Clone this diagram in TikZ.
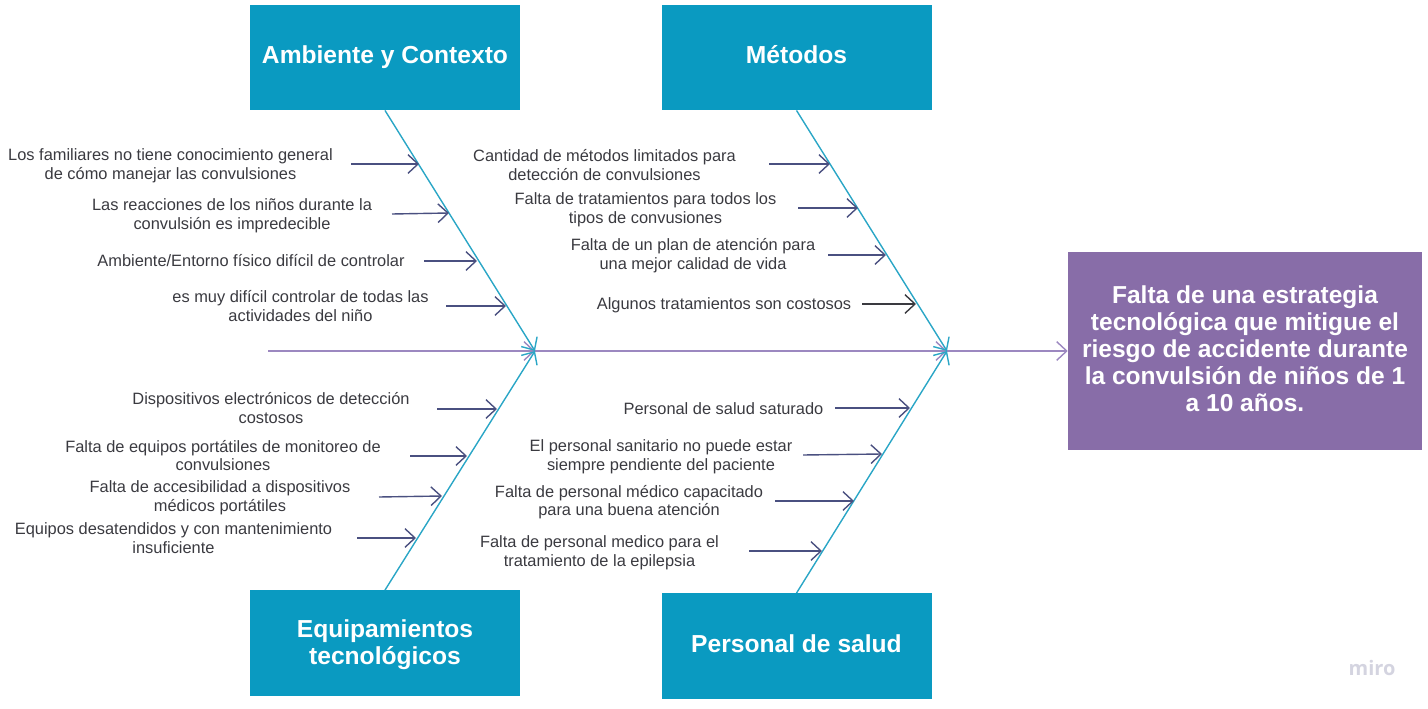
\documentclass[tikz,border=0pt]{standalone}
\usepackage{fontspec}
\setmainfont{Liberation Sans}
\newfontfamily\logofont{Open Sans}
\usetikzlibrary{arrows.meta}
\definecolor{Teal}{HTML}{0A9AC1}
\definecolor{Bone}{HTML}{2AA6C6}
\definecolor{Purple}{HTML}{886DA8}
\definecolor{Spine}{HTML}{9C88C0}
\definecolor{Slate}{HTML}{4A5080}
\definecolor{Ink}{HTML}{3A3A40}
\definecolor{Logo}{HTML}{D4D4E0}
\tikzset{
  catbox/.style={fill=Teal,text=white,inner sep=0pt,minimum width=202.5pt,minimum height=79pt,align=center,
    font=\fontsize{18.45}{20.3}\selectfont\bfseries},
  effectbox/.style={fill=Purple,text=white,inner sep=0pt,minimum width=265.5pt,minimum height=148.5pt,align=center,
    font=\fontsize{18.4}{20.3}\selectfont\bfseries},
  causetext/.style={text=Ink,inner sep=0pt,align=center,font=\fontsize{12.3}{13.9}\selectfont},
  barb/.style={-{Straight Barb[length=7.5pt,width=14pt]}},
  bone/.style={barb,Bone,line width=1.05pt},
  spine/.style={barb,Spine,line width=1.05pt},
  causearrow/.style={barb,Slate,line width=1.05pt}
}
\begin{document}
\begin{tikzpicture}[x=.75pt,y=-.75pt]
  \useasboundingbox(0,0)rectangle(1428,709);
  % categories and effect
  \node[catbox](ambiente)at(385,57.5){Ambiente y Contexto};
  \node[catbox](metodos)at(796.5,57.5){Métodos\vphantom{y}};
  \node[catbox](equipos)at(385,643){\rule{0pt}{16pt}Equipamientos\\tecnológicos};
  \node[catbox](personal)at(796.5,646){Personal de salud\vphantom{y}};
  \node[effectbox](efecto)at(1245,351){Falta de una estrategia\\tecnológica que mitigue el\\riesgo de accidente durante\\la convulsión de niños de 1\\a 10 años.\vphantom{y}};
  % spine
  \coordinate(cola)at(268,351);
  \coordinate(union1)at(535,351);
  \coordinate(union2)at(947,351);
  \draw[spine](cola)--(union1);
  \draw[spine](union1)--(union2);
  \draw[spine](union2)--(efecto.west);
  % bones
  \draw[bone](ambiente.south)--(union1);
  \draw[bone](equipos.north)--(union1);
  \draw[bone](metodos.south)--(union2);
  \draw[bone](personal.north)--(union2);
  % causes, upper left
  \node[causetext](c1)at(170.5,165.5){Los familiares no tiene conocimiento general\\de cómo manejar las convulsiones};
  \coordinate(c1a)at(351,164);\coordinate(c1b)at(419,164);
  \draw[causearrow](c1a)--(c1b);
  \node[causetext](c2)at(232,216){Las reacciones de los niños durante la\\convulsión es impredecible};
  \coordinate(c2a)at(392,214);\coordinate(c2b)at(449,213);
  \draw[causearrow](c2a)--(c2b);
  \node[causetext](c3)at(251,261){Ambiente/Entorno físico difícil de controlar};
  \coordinate(c3a)at(424,261);\coordinate(c3b)at(477,261);
  \draw[causearrow](c3a)--(c3b);
  \node[causetext](c4)at(300.5,306){es muy difícil controlar de todas las\\actividades del niño};
  \coordinate(c4a)at(446,306);\coordinate(c4b)at(506,306);
  \draw[causearrow](c4a)--(c4b);
  % causes, lower left
  \node[causetext](c5)at(271,408){Dispositivos electrónicos de detección\\costosos};
  \coordinate(c5a)at(437,409);\coordinate(c5b)at(497,409);
  \draw[causearrow](c5a)--(c5b);
  \node[causetext](c6)at(223,455.5){Falta de equipos portátiles de monitoreo de\\convulsiones};
  \coordinate(c6a)at(410,456);\coordinate(c6b)at(467,456);
  \draw[causearrow](c6a)--(c6b);
  \node[causetext](c7)at(220,497.5){Falta de accesibilidad a dispositivos\\médicos portátiles};
  \coordinate(c7a)at(379,497);\coordinate(c7b)at(442,496);
  \draw[causearrow](c7a)--(c7b);
  \node[causetext](c8)at(173.5,538){Equipos desatendidos y con mantenimiento\\insuficiente};
  \coordinate(c8a)at(357,538);\coordinate(c8b)at(416,538);
  \draw[causearrow](c8a)--(c8b);
  % causes, upper middle
  \node[causetext](c9)at(604.5,165){Cantidad de métodos limitados para\\detección de convulsiones};
  \coordinate(c9a)at(769,164);\coordinate(c9b)at(830,164);
  \draw[causearrow](c9a)--(c9b);
  \node[causetext](c10)at(645.5,210){Falta de tratamientos para todos los\\tipos de convusiones};
  \coordinate(c10a)at(798,208);\coordinate(c10b)at(858,208);
  \draw[causearrow](c10a)--(c10b);
  \node[causetext](c11)at(693,255.5){Falta de un plan de atención para\\una mejor calidad de vida};
  \coordinate(c11a)at(828,255);\coordinate(c11b)at(886,255);
  \draw[causearrow](c11a)--(c11b);
  \node[causetext](c12)at(724,305){Algunos tratamientos son costosos};
  \coordinate(c12a)at(862,304);\coordinate(c12b)at(916,304);
  \draw[causearrow,Ink](c12a)--(c12b);
  % causes, lower middle
  \node[causetext](c13)at(723.5,408.5){Personal de salud saturado};
  \coordinate(c13a)at(835,408);\coordinate(c13b)at(910,408);
  \draw[causearrow](c13a)--(c13b);
  \node[causetext](c14)at(661,457){El personal sanitario no puede estar\\siempre pendiente del paciente};
  \coordinate(c14a)at(803,455);\coordinate(c14b)at(882,454);
  \draw[causearrow](c14a)--(c14b);
  \node[causetext](c15)at(629,502){Falta de personal médico capacitado\\para una buena atención};
  \coordinate(c15a)at(775,501);\coordinate(c15b)at(854,501);
  \draw[causearrow](c15a)--(c15b);
  \node[causetext](c16)at(599.5,552.5){Falta de personal medico para el\\tratamiento de la epilepsia};
  \coordinate(c16a)at(749,551);\coordinate(c16b)at(822,551);
  \draw[causearrow](c16a)--(c16b);
  \node[text=Logo,font=\logofont\fontsize{15}{15}\selectfont\bfseries](logo)at(1372,668){miro};
\end{tikzpicture}
\end{document}
